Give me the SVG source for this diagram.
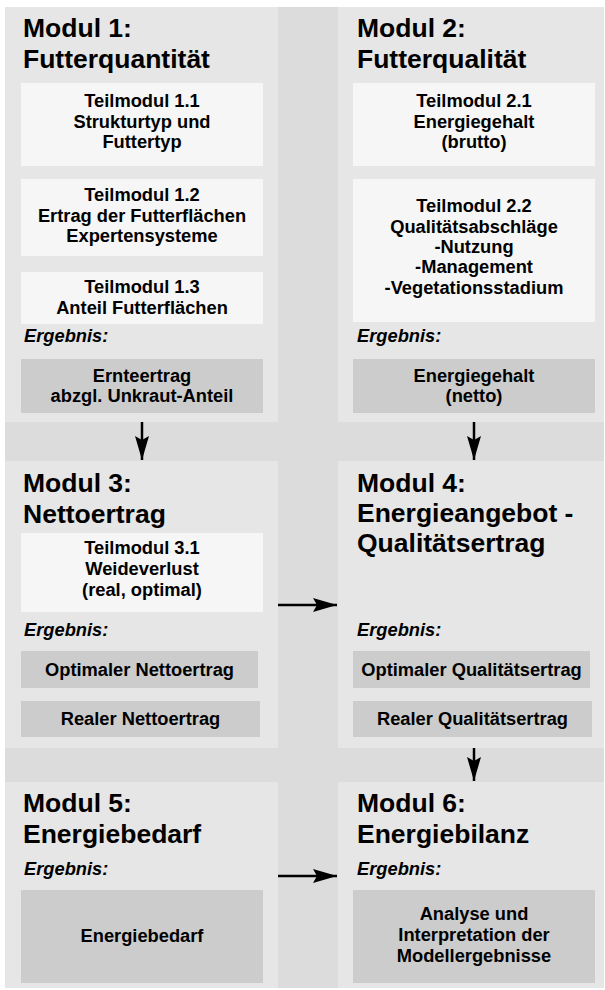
<svg xmlns="http://www.w3.org/2000/svg" width="605" height="990" viewBox="0 0 605 990">
<style>
.bg{fill:#dcdcdc}
.panel{fill:#e6e6e6}
.sub{fill:#f6f6f6}
.res{fill:#cccccc}
.title{font-family:"Liberation Sans",Arial,sans-serif;font-weight:bold;font-size:26.5px;fill:#000}
.t{font-family:"Liberation Sans",Arial,sans-serif;font-weight:bold;font-size:18.3px;fill:#000;text-anchor:middle}
.erg{font-family:"Liberation Sans",Arial,sans-serif;font-weight:bold;font-style:italic;font-size:18.3px;fill:#000}
.conn{stroke:#000;stroke-width:2.5;fill:none}
</style>
<defs>
<marker id="ah" markerUnits="userSpaceOnUse" markerWidth="24" markerHeight="14" refX="24" refY="7" orient="auto">
<path d="M0,0 L24,7 L0,14 L4,7 Z" fill="#000"/>
</marker>
</defs>
<rect class="bg" x="5" y="7" width="599" height="981"/>

<g id="modul1">
<rect class="panel" x="5" y="7" width="273" height="415"/>
<text class="title" x="23" y="37">Modul 1:</text>
<text class="title" x="23" y="68">Futterquantität</text>
<rect class="sub" x="21" y="83" width="242" height="83"/>
<text class="t" x="142" y="107">Teilmodul 1.1</text>
<text class="t" x="142" y="128">Strukturtyp und</text>
<text class="t" x="142" y="148">Futtertyp</text>
<rect class="sub" x="21" y="179" width="242" height="77"/>
<text class="t" x="142" y="201">Teilmodul 1.2</text>
<text class="t" x="142" y="222">Ertrag der Futterflächen</text>
<text class="t" x="142" y="242">Expertensysteme</text>
<rect class="sub" x="21" y="272" width="242" height="52"/>
<text class="t" x="142" y="293">Teilmodul 1.3</text>
<text class="t" x="142" y="314">Anteil Futterflächen</text>
<text class="erg" x="24" y="342">Ergebnis:</text>
<rect class="res" x="21" y="359" width="242" height="54"/>
<text class="t" x="142" y="382">Ernteertrag</text>
<text class="t" x="142" y="402">abzgl. Unkraut-Anteil</text>
</g>

<g id="modul2">
<rect class="panel" x="338" y="7" width="266" height="415"/>
<text class="title" x="357" y="37">Modul 2:</text>
<text class="title" x="357" y="68">Futterqualität</text>
<rect class="sub" x="353" y="83" width="242" height="83"/>
<text class="t" x="474" y="107">Teilmodul 2.1</text>
<text class="t" x="474" y="128">Energiegehalt</text>
<text class="t" x="474" y="148">(brutto)</text>
<rect class="sub" x="353" y="179" width="242" height="143"/>
<text class="t" x="474" y="212">Teilmodul 2.2</text>
<text class="t" x="474" y="233">Qualitätsabschläge</text>
<text class="t" x="474" y="253">-Nutzung</text>
<text class="t" x="474" y="273">-Management</text>
<text class="t" x="474" y="294">-Vegetationsstadium</text>
<text class="erg" x="357" y="342">Ergebnis:</text>
<rect class="res" x="353" y="359" width="242" height="54"/>
<text class="t" x="474" y="382">Energiegehalt</text>
<text class="t" x="474" y="402">(netto)</text>
</g>

<g id="modul3">
<rect class="panel" x="5" y="461" width="273" height="287"/>
<text class="title" x="23" y="492">Modul 3:</text>
<text class="title" x="23" y="523">Nettoertrag</text>
<rect class="sub" x="21" y="533" width="242" height="79"/>
<text class="t" x="142" y="554">Teilmodul 3.1</text>
<text class="t" x="142" y="575">Weideverlust</text>
<text class="t" x="142" y="596">(real, optimal)</text>
<text class="erg" x="24" y="636">Ergebnis:</text>
<rect class="res" x="21" y="651" width="237" height="37"/>
<text class="t" x="139.5" y="676">Optimaler Nettoertrag</text>
<rect class="res" x="21" y="701" width="239" height="36"/>
<text class="t" x="140.5" y="725">Realer Nettoertrag</text>
</g>

<g id="modul4">
<rect class="panel" x="338" y="461" width="266" height="287"/>
<text class="title" x="357" y="492">Modul 4:</text>
<text class="title" x="357" y="522">Energieangebot -</text>
<text class="title" x="357" y="552">Qualitätsertrag</text>
<text class="erg" x="357" y="636">Ergebnis:</text>
<rect class="res" x="353" y="651" width="237" height="37"/>
<text class="t" x="471.5" y="676">Optimaler Qualitätsertrag</text>
<rect class="res" x="353" y="701" width="239" height="36"/>
<text class="t" x="472.5" y="725">Realer Qualitätsertrag</text>
</g>

<g id="modul5">
<rect class="panel" x="5" y="782" width="273" height="206"/>
<text class="title" x="23" y="812">Modul 5:</text>
<text class="title" x="23" y="843">Energiebedarf</text>
<text class="erg" x="24" y="875">Ergebnis:</text>
<rect class="res" x="21" y="890" width="242" height="93"/>
<text class="t" x="142" y="942">Energiebedarf</text>
</g>

<g id="modul6">
<rect class="panel" x="338" y="782" width="266" height="206"/>
<text class="title" x="357" y="812">Modul 6:</text>
<text class="title" x="357" y="843">Energiebilanz</text>
<text class="erg" x="357" y="875">Ergebnis:</text>
<rect class="res" x="353" y="890" width="242" height="93"/>
<text class="t" x="474" y="920">Analyse und</text>
<text class="t" x="474" y="941">Interpretation der</text>
<text class="t" x="474" y="962">Modellergebnisse</text>
</g>

<g id="connectors">
<line class="conn" x1="142" y1="422" x2="142" y2="460" marker-end="url(#ah)"/>
<line class="conn" x1="474" y1="422" x2="474" y2="460" marker-end="url(#ah)"/>
<line class="conn" x1="474" y1="748" x2="474" y2="781" marker-end="url(#ah)"/>
<line class="conn" x1="278" y1="605" x2="337" y2="605" marker-end="url(#ah)"/>
<line class="conn" x1="278" y1="876" x2="337" y2="876" marker-end="url(#ah)"/>
</g>
</svg>
